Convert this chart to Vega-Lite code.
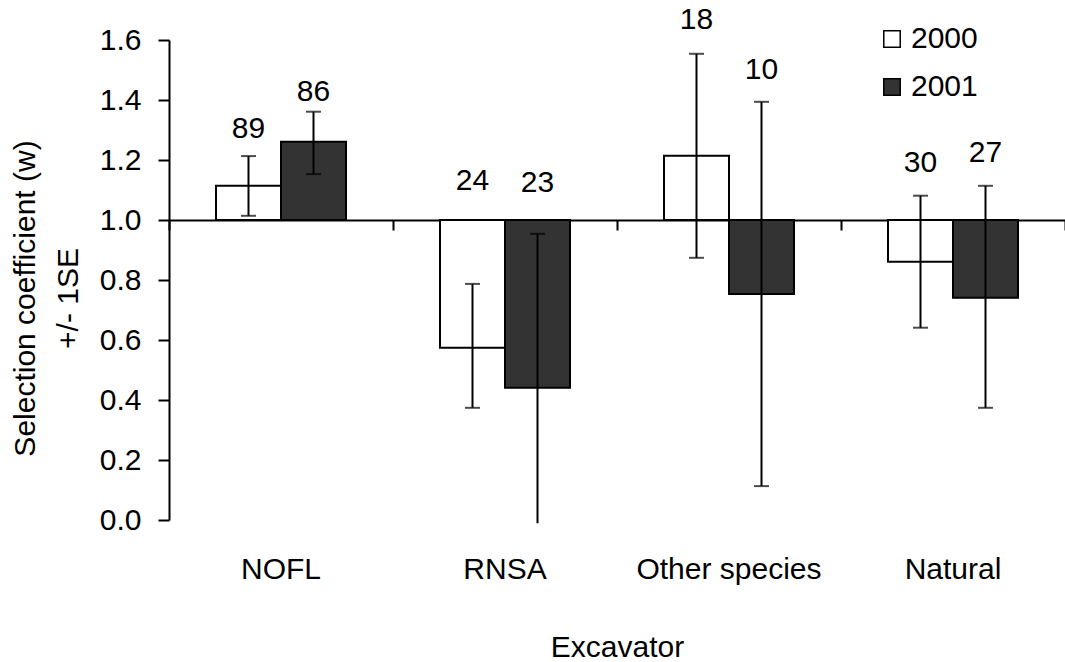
{
  "$schema": "https://vega.github.io/schema/vega-lite/v6.json",
  "autosize": "none",
  "width": 896,
  "height": 480,
  "padding": {"left": 169, "top": 40, "right": 0, "bottom": 142},
  "background": "white",
  "config": {
    "view": {"stroke": null},
    "font": "Liberation Sans",
    "axis": {"grid": false, "labelColor": "black", "titleColor": "black", "domainColor": "black", "tickColor": "black", "labelFont": "Liberation Sans", "titleFont": "Liberation Sans"}
  },
  "data": {
    "values": [
      {"excavator": "NOFL", "year": "2000", "w": 1.114, "lower": 1.014, "upper": 1.213, "n": 89, "label_y": 1.303},
      {"excavator": "NOFL", "year": "2001", "w": 1.261, "lower": 1.153, "upper": 1.361, "n": 86, "label_y": 1.427},
      {"excavator": "RNSA", "year": "2000", "w": 0.574, "lower": 0.374, "upper": 0.787, "n": 24, "label_y": 1.13},
      {"excavator": "RNSA", "year": "2001", "w": 0.441, "lower": -0.011, "upper": 0.954, "n": 23, "label_y": 1.123},
      {"excavator": "Other species", "year": "2000", "w": 1.214, "lower": 0.874, "upper": 1.554, "n": 18, "label_y": 1.667},
      {"excavator": "Other species", "year": "2001", "w": 0.753, "lower": 0.113, "upper": 1.394, "n": 10, "label_y": 1.5},
      {"excavator": "Natural", "year": "2000", "w": 0.861, "lower": 0.641, "upper": 1.081, "n": 30, "label_y": 1.19},
      {"excavator": "Natural", "year": "2001", "w": 0.741, "lower": 0.374, "upper": 1.114, "n": 27, "label_y": 1.223}
    ]
  },
  "resolve": {"axis": {"x": "independent"}},
  "layer": [
    {
      "mark": {"type": "bar", "stroke": "black", "strokeWidth": 2},
      "encoding": {
        "x": {
          "field": "excavator", "type": "nominal",
          "sort": ["NOFL", "RNSA", "Other species", "Natural"],
          "scale": {"paddingInner": 0, "paddingOuter": 0},
          "axis": {
            "orient": "bottom", "offset": -300, "labels": false, "title": null,
            "domain": true, "domainWidth": 2, "ticks": true, "tickBand": "extent",
            "tickSize": 10, "tickWidth": 2
          }
        },
        "xOffset": {
          "field": "year", "type": "nominal",
          "scale": {"paddingInner": 0, "paddingOuter": 0.723}
        },
        "y": {
          "field": "w", "type": "quantitative",
          "scale": {"domain": [0, 1.6], "nice": false, "zero": false},
          "axis": {
            "values": [0, 0.2, 0.4, 0.6, 0.8, 1.0, 1.2, 1.4, 1.6],
            "format": ".1f",
            "labelFontSize": 30, "labelPadding": 17,
            "tickSize": 11, "tickWidth": 2, "domainWidth": 2,
            "title": ["Selection coefficient (w)", "+/- 1SE"],
            "titleFontSize": 30, "titleFontWeight": "normal",
            "titleAngle": -90, "titleBaseline": "alphabetic", "titleAlign": "center",
            "titleX": -135, "titleY": 258, "titleLineHeight": 43
          }
        },
        "y2": {"datum": 1},
        "fill": {
          "field": "year", "type": "nominal",
          "scale": {"domain": ["2000", "2001"], "range": ["white", "#333333"]},
          "legend": {
            "orient": "none", "legendX": 708, "legendY": -16,
            "title": null, "symbolType": "square", "symbolSize": 270,
            "symbolStrokeColor": "black", "symbolStrokeWidth": 1.5,
            "labelFontSize": 30, "labelFont": "Liberation Sans", "labelColor": "black",
            "labelOffset": 4, "rowPadding": 18
          }
        }
      }
    },
    {
      "mark": {"type": "rule", "color": "black", "strokeWidth": 2},
      "encoding": {
        "x": {
          "field": "excavator", "type": "nominal",
          "sort": ["NOFL", "RNSA", "Other species", "Natural"],
          "axis": {
            "orient": "bottom", "domain": false, "ticks": false, "tickSize": 0,
            "labelFontSize": 30, "labelAngle": 0, "labelPadding": 34, "labelLimit": 0,
            "title": "Excavator", "titleFontSize": 30, "titleFontWeight": "normal",
            "titleBaseline": "alphabetic", "titleY": 136
          }
        },
        "xOffset": {"field": "year", "type": "nominal"},
        "y": {"field": "lower", "type": "quantitative"},
        "y2": {"field": "upper"}
      }
    },
    {
      "mark": {"type": "tick", "color": "black", "thickness": 2, "size": 15, "clip": true},
      "encoding": {
        "x": {"field": "excavator", "type": "nominal", "sort": ["NOFL", "RNSA", "Other species", "Natural"], "axis": null},
        "xOffset": {"field": "year", "type": "nominal"},
        "y": {"field": "upper", "type": "quantitative"}
      }
    },
    {
      "mark": {"type": "tick", "color": "black", "thickness": 2, "size": 15, "clip": true},
      "encoding": {
        "x": {"field": "excavator", "type": "nominal", "sort": ["NOFL", "RNSA", "Other species", "Natural"], "axis": null},
        "xOffset": {"field": "year", "type": "nominal"},
        "y": {"field": "lower", "type": "quantitative"}
      }
    },
    {
      "mark": {"type": "text", "fontSize": 30, "font": "Liberation Sans", "color": "black", "baseline": "middle", "align": "center"},
      "encoding": {
        "x": {"field": "excavator", "type": "nominal", "sort": ["NOFL", "RNSA", "Other species", "Natural"], "axis": null},
        "xOffset": {"field": "year", "type": "nominal"},
        "y": {"field": "label_y", "type": "quantitative"},
        "text": {"field": "n", "type": "quantitative"}
      }
    }
  ]
}
